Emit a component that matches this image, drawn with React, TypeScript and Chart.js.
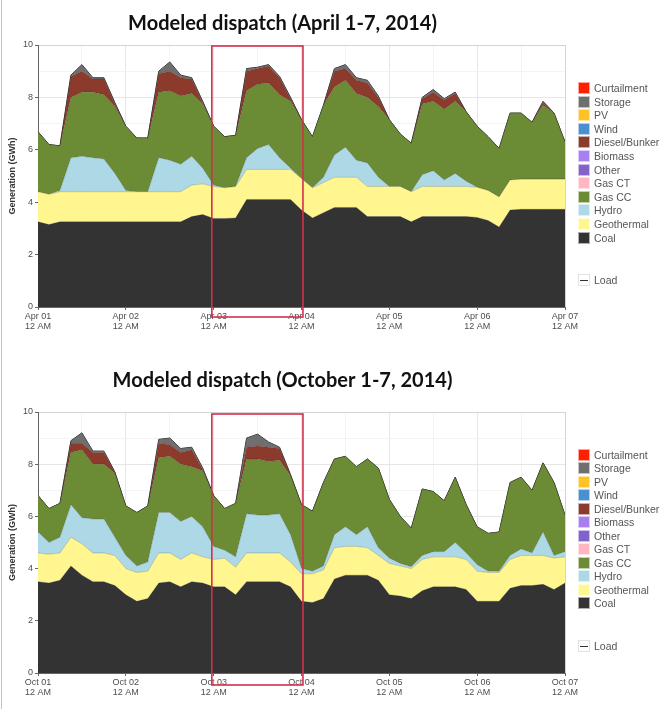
import React, { useEffect, useRef } from 'react';
import { Chart, registerables } from 'chart.js';

Chart.register(...registerables);

// ---------- data (GWh, 3-hourly, hour 0 .. 144) ----------
const HOURS = [
  0, 3, 6, 9, 12, 15, 18, 21,
  24, 27, 30, 33, 36, 39, 42, 45,
  48, 51, 54, 57, 60, 63, 66, 69,
  72, 75, 78, 81, 84, 87, 90, 93,
  96, 99, 102, 105, 108, 111, 114, 117,
  120, 123, 126, 129, 132, 135, 138, 141,
  144,
];

const APR_DAYS = ['Apr 01', 'Apr 02', 'Apr 03', 'Apr 04', 'Apr 05', 'Apr 06', 'Apr 07'];
const OCT_DAYS = ['Oct 01', 'Oct 02', 'Oct 03', 'Oct 04', 'Oct 05', 'Oct 06', 'Oct 07'];

const APR_COAL = [
  3.25, 3.15, 3.25, 3.25, 3.25, 3.25, 3.25, 3.25,
  3.25, 3.25, 3.25, 3.25, 3.25, 3.25, 3.45, 3.53,
  3.38, 3.38, 3.4, 4.1, 4.1, 4.1, 4.1, 4.1,
  3.7, 3.4, 3.6, 3.8, 3.8, 3.8, 3.45, 3.45,
  3.45, 3.45, 3.25, 3.45, 3.45, 3.45, 3.45, 3.45,
  3.42, 3.3, 3.05, 3.7, 3.73, 3.73, 3.73, 3.73,
  3.73,
];
const APR_GEO = [
  1.15, 1.15, 1.15, 1.15, 1.15, 1.15, 1.15, 1.15,
  1.15, 1.15, 1.15, 1.15, 1.15, 1.15, 1.2, 1.17,
  1.22, 1.17, 1.2, 1.15, 1.15, 1.15, 1.15, 1.15,
  1.2, 1.15, 1.15, 1.15, 1.15, 1.15, 1.15, 1.15,
  1.15, 1.15, 1.15, 1.15, 1.15, 1.15, 1.15, 1.15,
  1.15, 1.15, 1.15, 1.15, 1.15, 1.15, 1.15, 1.15,
  1.15,
];
const APR_HYDRO = [
  0, 0, 0.05, 1.3, 1.35, 1.3, 1.25, 0.7,
  0.05, 0, 0, 1.3, 1.2, 1.05, 1.1, 0.6,
  0.05, 0, 0, 0.45, 0.8, 0.95, 0.45, 0.05,
  0, 0, 0.2, 0.85, 1.15, 0.65, 0.9, 0.35,
  0, 0, 0, 0.45, 0.6, 0.25, 0.5, 0.2,
  0, 0, 0, 0, 0, 0, 0, 0,
  0,
];
const APR_GASCC = [
  2.29, 1.9, 1.7, 2.3, 2.45, 2.5, 2.45, 2.55,
  2.45, 2.05, 2.05, 2.5, 2.65, 2.6, 2.4, 2.45,
  2.25, 1.95, 1.95, 2.55, 2.45, 2.35, 2.4, 2.55,
  2.25, 1.95, 2.75, 2.6, 2.55, 2.55, 2.5, 2.7,
  2.55, 2.0, 1.85, 2.7, 2.65, 2.7, 2.75, 2.65,
  2.33, 2.05, 1.85, 2.55, 2.52, 2.17, 2.82, 2.52,
  1.42,
];
const APR_DIESEL = [
  0, 0, 0, 0.8, 0.8, 0.5, 0.6, 0.1,
  0, 0, 0, 0.7, 0.75, 0.7, 0.55, 0.05,
  0, 0, 0, 0.75, 0.6, 0.65, 0.65, 0.1,
  0, 0, 0, 0.6, 0.45, 0.5, 0.55, 0.35,
  0, 0, 0, 0.2, 0.35, 0.35, 0.3, 0,
  0, 0, 0, 0, 0, 0, 0.1, 0,
  0,
];
const APR_STORAGE = [
  0, 0, 0, 0.05, 0.25, 0.05, 0.05, 0.05,
  0, 0, 0, 0.1, 0.35, 0.1, 0.05, 0.05,
  0, 0, 0, 0.1, 0.05, 0.05, 0.05, 0.05,
  0, 0, 0, 0.1, 0.15, 0.1, 0.1, 0.05,
  0, 0, 0, 0.05, 0.1, 0.05, 0.05, 0,
  0, 0, 0, 0, 0, 0, 0.05, 0,
  0,
];

const OCT_COAL = [
  3.5, 3.45, 3.55, 4.1, 3.75, 3.5, 3.5, 3.35,
  3.0, 2.75, 2.85, 3.45, 3.5, 3.3, 3.5, 3.45,
  3.3, 3.3, 3.0, 3.5, 3.5, 3.5, 3.5, 3.3,
  2.75, 2.7, 2.85, 3.6, 3.75, 3.75, 3.75, 3.55,
  3.0, 2.95, 2.85, 3.15, 3.3, 3.3, 3.3, 3.2,
  2.75, 2.75, 2.75, 3.25, 3.35, 3.35, 3.4, 3.2,
  3.45,
];
const OCT_GEO = [
  1.1, 1.1, 1.05, 1.1, 1.2, 1.1, 1.1, 1.15,
  1.0, 1.1, 1.05, 1.15, 1.1, 1.05, 1.1, 1.0,
  1.05, 1.1, 1.05, 1.1, 1.1, 1.1, 1.1, 0.95,
  1.05, 1.1, 1.1, 1.2, 1.1, 1.1, 1.05, 0.95,
  1.2, 1.15, 1.15, 1.2, 1.15, 1.15, 1.15, 1.15,
  1.15, 1.1, 1.1, 1.1, 1.15, 1.15, 1.1, 1.2,
  1.0,
];
const OCT_HYDRO = [
  0.8, 0.45, 0.6, 1.25, 1.0, 1.3, 1.3, 0.7,
  0.5, 0.25, 0.35, 1.55, 1.55, 1.45, 1.4, 1.15,
  0.5, 0.3, 0.4, 1.5, 1.45, 1.45, 1.5, 1.05,
  0.2, 0.1, 0.15, 0.5, 0.75, 0.45, 0.8, 0.3,
  0.2, 0.1, 0.07, 0.15, 0.2, 0.2, 0.55, 0.25,
  0.25, 0.05, 0.05, 0.15, 0.25, 0.1, 0.9, 0.1,
  0.2,
];
const OCT_GASCC = [
  1.4, 1.3, 1.3, 2.0, 2.6, 2.1, 2.1, 2.45,
  1.9, 2.05, 2.15, 2.1, 2.15, 2.2, 1.9, 2.15,
  1.95, 1.6, 2.05, 2.1, 2.15, 2.05, 2.05, 2.25,
  2.45, 2.3, 3.2, 2.9, 2.7, 2.6, 2.6, 3.05,
  2.25, 1.8, 1.48, 2.55, 2.3, 1.95, 2.5, 1.85,
  1.45, 1.45, 1.5, 2.8, 2.75, 2.4, 2.65, 2.8,
  1.4,
];
const OCT_DIESEL = [
  0, 0, 0, 0.35, 0.25, 0.45, 0.45, 0.03,
  0, 0, 0, 0.55, 0.45, 0.45, 0.65, 0.05,
  0, 0, 0, 0.45, 0.5, 0.55, 0.45, 0.03,
  0, 0, 0, 0, 0, 0, 0, 0,
  0, 0, 0, 0, 0, 0, 0, 0,
  0, 0, 0, 0, 0, 0, 0, 0,
  0,
];
const OCT_STORAGE = [
  0, 0, 0, 0.1, 0.4, 0.05, 0.05, 0.02,
  0, 0, 0, 0.15, 0.25, 0.15, 0.1, 0.05,
  0, 0, 0, 0.35, 0.45, 0.2, 0.05, 0.02,
  0, 0, 0, 0, 0, 0, 0, 0,
  0, 0, 0, 0, 0, 0, 0, 0,
  0, 0, 0, 0, 0, 0, 0, 0,
  0,
];

// highlighted window (hours)
const HIGHLIGHT = [47.5, 72.4];

const LEGEND_ITEMS = [
  'Curtailment', 'Storage', 'PV', 'Wind', 'Diesel/Bunker', 'Biomass',
  'Other', 'Gas CT', 'Gas CC', 'Hydro', 'Geothermal', 'Coal',
];

// ---------- styles ----------
const COLORS: Record<string, string> = {
  Curtailment: '#ff1f00',
  Storage: '#6f6f6f',
  PV: '#ffc125',
  Wind: '#4a90d0',
  'Diesel/Bunker': '#8b3a2c',
  Biomass: '#a87ff0',
  Other: '#8462cc',
  'Gas CT': '#ffb6c1',
  'Gas CC': '#6b8b35',
  Hydro: '#add8e6',
  Geothermal: '#fff68f',
  Coal: '#333333',
};

const FONT = "'Liberation Sans', Arial, sans-serif";
const TITLE_FONT = "Lato, 'Open Sans', sans-serif";

const highlightPlugin = {
  id: 'highlightBox',
  afterDraw(chart: any, _args: any, opts: any) {
    if (!opts || opts.from == null) return;
    const { ctx, chartArea } = chart;
    const xs = chart.scales.x;
    const x0 = xs.getPixelForValue(opts.from);
    const x1 = xs.getPixelForValue(opts.to);
    const y0 = chartArea.top + opts.topOffset;
    const y1 = chartArea.bottom + opts.bottomOffset;
    ctx.save();
    ctx.strokeStyle = '#d3304c';
    ctx.lineWidth = 1.6;
    ctx.strokeRect(x0, y0, x1 - x0, y1 - y0);
    ctx.restore();
  },
};

type PanelProps = {
  title: string;
  days: string[];
  coal: number[];
  geo: number[];
  hydro: number[];
  gas: number[];
  diesel: number[];
  storage: number[];
  top: number;
  height: number;
  titlePadTop: number;
  titlePadBottom: number;
  xAxisHeight: number;
  boxTop: number;
  boxBottom: number;
};

function DispatchChart(p: PanelProps) {
  const ref = useRef<HTMLCanvasElement | null>(null);

  useEffect(() => {
    if (!ref.current) return;
    const layers = [
      { label: 'Coal', data: p.coal },
      { label: 'Geothermal', data: p.geo },
      { label: 'Hydro', data: p.hydro },
      { label: 'Gas CC', data: p.gas },
      { label: 'Diesel/Bunker', data: p.diesel },
      { label: 'Storage', data: p.storage },
    ];
    const load = HOURS.map((_, i) => layers.reduce((s, l) => s + l.data[i], 0));

    const datasets: any[] = layers.map((l, i) => ({
      label: l.label,
      data: l.data,
      backgroundColor: COLORS[l.label],
      borderColor: 'rgba(40,40,40,0.35)',
      borderWidth: 0.6,
      fill: i === 0 ? 'origin' : '-1',
      pointRadius: 0,
      tension: 0,
      stack: 'gen',
    }));
    datasets.push({
      label: 'Load',
      data: load,
      borderColor: '#2b2b2b',
      borderWidth: 1,
      fill: false,
      pointRadius: 0,
      tension: 0,
      stack: 'load',
    });

    const chart = new Chart(ref.current, {
      type: 'line',
      data: { labels: HOURS, datasets },
      plugins: [highlightPlugin as any],
      options: {
        responsive: false,
        animation: false,
        devicePixelRatio: 1,
        layout: { padding: { left: 0, right: 39, top: 0, bottom: 0 } },
        plugins: {
          legend: { display: false },
          tooltip: { enabled: false },
          title: {
            display: true,
            text: p.title,
            color: '#111',
            font: { family: TITLE_FONT, size: 20, weight: 'bold', lineHeight: 1.2 },
            padding: { top: p.titlePadTop, bottom: p.titlePadBottom },
          },
          highlightBox: {
            from: HIGHLIGHT[0],
            to: HIGHLIGHT[1],
            topOffset: p.boxTop,
            bottomOffset: p.boxBottom,
          },
        } as any,
        scales: {
          x: {
            type: 'linear',
            min: 0,
            max: 144,
            offset: false,
            ticks: {
              stepSize: 12,
              autoSkip: false,
              maxRotation: 0,
              padding: 1,
              color: '#4d4d4d',
              font: { family: FONT, size: 9, lineHeight: 1.15 },
              callback: (v: any) => (Number(v) % 24 === 0 ? [p.days[Number(v) / 24], '12 AM'] : ''),
            },
            grid: {
              color: (c: any) =>
                c.tick && c.tick.value === 144 ? '#d4d4d4' : c.tick && c.tick.value % 24 === 0 ? '#e6e6e6' : '#f3f3f3',
              tickLength: 3,
              tickColor: (c: any) => (c.tick && c.tick.value % 24 === 0 ? '#666' : 'rgba(0,0,0,0)'),
            },
            border: { color: '#666', width: 1 },
            afterFit: (s: any) => {
              s.height = p.xAxisHeight;
            },
          },
          y: {
            stacked: true,
            min: 0,
            max: 10,
            ticks: {
              stepSize: 1,
              padding: 2,
              color: '#4d4d4d',
              font: { family: FONT, size: 9 },
              callback: (v: any) => (Number(v) % 2 === 0 ? String(v) : ''),
            },
            grid: {
              color: (c: any) =>
                c.tick && c.tick.value === 10 ? '#d4d4d4' : c.tick && c.tick.value % 2 === 0 ? '#e6e6e6' : '#f3f3f3',
              tickLength: 3,
              tickColor: (c: any) => (c.tick && c.tick.value % 2 === 0 ? '#666' : 'rgba(0,0,0,0)'),
            },
            border: { color: '#666', width: 1 },
            title: {
              display: true,
              text: 'Generation (GWh)',
              color: '#333',
              font: { family: FONT, size: 9, weight: 'bold' },
              padding: { top: 7, bottom: 0 },
            },
            afterFit: (s: any) => {
              s.width = 38;
            },
          },
        },
      } as any,
    });
    return () => chart.destroy();
  }, []);

  return (
    <canvas
      ref={ref}
      width={604}
      height={p.height}
      style={{ position: 'absolute', left: 0, top: p.top, width: 604, height: p.height }}
    />
  );
}

function Legend({ top, step, loadTop }: { top: number; step: number; loadTop: number }) {
  return (
    <div style={{ position: 'absolute', left: 0, top: 0 }}>
      {LEGEND_ITEMS.map((name, i) => (
        <div
          key={name}
          style={{
            position: 'absolute',
            left: 578,
            top: top + i * step - 6,
            height: 12,
            display: 'flex',
            alignItems: 'center',
            whiteSpace: 'nowrap',
          }}
        >
          <div style={{ width: 12, height: 12, background: COLORS[name], boxSizing: 'border-box', border: '1px solid rgba(255,255,255,0.6)' }} />
          <span style={{ marginLeft: 4, font: `10.5px ${FONT}`, color: '#555' }}>{name}</span>
        </div>
      ))}
      <div
        style={{
          position: 'absolute',
          left: 578,
          top: loadTop - 6,
          height: 12,
          display: 'flex',
          alignItems: 'center',
          whiteSpace: 'nowrap',
        }}
      >
        <div
          style={{
            width: 12,
            height: 12,
            boxSizing: 'border-box',
            border: '1px solid #e2e2e2',
            background: '#fff',
            position: 'relative',
          }}
        >
          <div style={{ position: 'absolute', left: 1, right: 1, top: 4.5, height: 1, background: '#333' }} />
        </div>
        <span style={{ marginLeft: 4, font: `10.5px ${FONT}`, color: '#555' }}>Load</span>
      </div>
    </div>
  );
}

export default function App() {
  return (
    <div
      style={{
        position: 'absolute',
        left: 0,
        top: 0,
        width: 660,
        height: 709,
        overflow: 'hidden',
        background: '#fff',
      }}
    >
      <div style={{ position: 'absolute', left: 1, top: 0, width: 1, height: 709, background: '#eab0bd' }} />
      <DispatchChart
        title="Modeled dispatch (April 1-7, 2014)"
        days={APR_DAYS}
        coal={APR_COAL}
        geo={APR_GEO}
        hydro={APR_HYDRO}
        gas={APR_GASCC}
        diesel={APR_DIESEL}
        storage={APR_STORAGE}
        top={0}
        height={345}
        titlePadTop={12}
        titlePadBottom={9}
        xAxisHeight={38}
        boxTop={1}
        boxBottom={10}
      />
      <Legend top={88} step={13.6} loadTop={280} />
      <DispatchChart
        title="Modeled dispatch (October 1-7, 2014)"
        days={OCT_DAYS}
        coal={OCT_COAL}
        geo={OCT_GEO}
        hydro={OCT_HYDRO}
        gas={OCT_GASCC}
        diesel={OCT_DIESEL}
        storage={OCT_STORAGE}
        top={367}
        height={342}
        titlePadTop={2}
        titlePadBottom={19}
        xAxisHeight={36}
        boxTop={2}
        boxBottom={12}
      />
      <Legend top={455} step={13.45} loadTop={646} />
    </div>
  );
}
